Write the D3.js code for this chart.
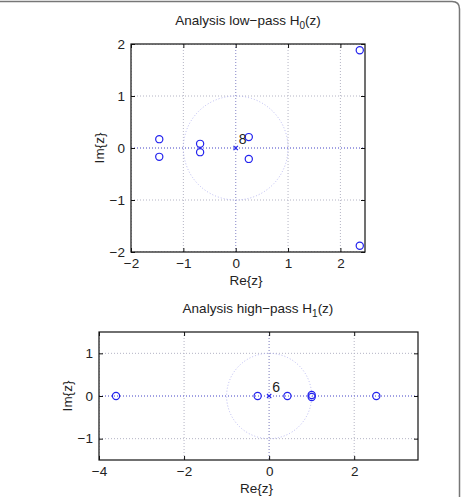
<!DOCTYPE html>
<html><head><meta charset="utf-8">
<script src="https://cdn.jsdelivr.net/npm/d3@7"></script>
<style>body{margin:0;background:#fff}svg{display:block}text{font-family:"Liberation Sans",Arial,sans-serif;fill:#222}</style>
</head><body>
<script>
// Data
const lowZerosRe = [2.37, 2.37, -1.46, -1.46, -0.68, -0.68, 0.25, 0.25];
const lowZerosIm = [1.88, -1.88, 0.17, -0.17, 0.08, -0.08, 0.21, -0.21];
const lowPoleOrder = 8;
const highZerosRe = [-3.6, -0.27, 0.43, 1.0, 1.0, 2.52];
const highZerosIm = [0, 0, 0, 0.025, -0.025, 0];
const highPoleOrder = 6;
const lowXTicks = [-2, -1, 0, 1, 2];
const lowYTicks = [-2, -1, 0, 1, 2];
const highXTicks = [-4, -2, 0, 2];
const highYTicks = [-1, 0, 1];

const W = 465, H = 497;
const svg = d3.select("body").append("svg").attr("width", W).attr("height", H);

// frame border
svg.append("path").attr("d", "M0,1.5 H452 Q459.5,1.5 459.5,9 V497")
  .attr("fill", "none").attr("stroke", "#777").attr("stroke-width", 1.5);

const fmt = v => (v < 0 ? "\u2212" + Math.abs(v) : String(v));

function panel(opt) {
  const x = d3.scaleLinear().domain(opt.xd).range([opt.l, opt.r]);
  const y = d3.scaleLinear().domain(opt.yd).range([opt.b, opt.t]);
  const g = svg.append("g");
  const clipId = "clip" + opt.id;
  g.append("clipPath").attr("id", clipId).append("rect")
    .attr("x", opt.l).attr("y", opt.t).attr("width", opt.r - opt.l).attr("height", opt.b - opt.t);
  const gg = g.append("g").attr("clip-path", `url(#${clipId})`);
  // grid
  opt.xt.forEach(v => {
    gg.append("line").attr("x1", x(v)).attr("x2", x(v)).attr("y1", opt.t).attr("y2", opt.b)
      .attr("stroke", "#b4b4c4").attr("stroke-width", 1).attr("stroke-dasharray", "1,2");
  });
  opt.yt.forEach(v => {
    gg.append("line").attr("y1", y(v)).attr("y2", y(v)).attr("x1", opt.l).attr("x2", opt.r)
      .attr("stroke", "#b4b4c4").attr("stroke-width", 1).attr("stroke-dasharray", "1,2");
  });
  // unit circle
  gg.append("ellipse").attr("cx", x(0)).attr("cy", y(0))
    .attr("rx", x(1) - x(0)).attr("ry", y(0) - y(1))
    .attr("fill", "none").attr("stroke", "#a8a8ee").attr("stroke-width", 0.8).attr("stroke-dasharray", "1,2");
  // axes lines
  gg.append("line").attr("x1", opt.l).attr("x2", opt.r).attr("y1", y(0)).attr("y2", y(0))
    .attr("stroke", "#6868e4").attr("stroke-width", 1).attr("stroke-dasharray", "1,2");
  gg.append("line").attr("x1", x(0)).attr("x2", x(0)).attr("y1", opt.t).attr("y2", opt.b)
    .attr("stroke", "#9c9cd8").attr("stroke-width", 1).attr("stroke-dasharray", "1,2");
  // box
  g.append("rect").attr("x", opt.l).attr("y", opt.t).attr("width", opt.r - opt.l).attr("height", opt.b - opt.t)
    .attr("fill", "none").attr("stroke", "#111").attr("stroke-width", 1.2);
  // axes with inward ticks
  const ax = [
    [d3.axisBottom(x).tickValues(opt.xt).tickSize(-4).tickPadding(6).tickFormat(fmt), `translate(0,${opt.b})`],
    [d3.axisTop(x).tickValues(opt.xt).tickSize(-4).tickFormat(""), `translate(0,${opt.t})`],
    [d3.axisLeft(y).tickValues(opt.yt).tickSize(-4).tickPadding(6).tickFormat(fmt), `translate(${opt.l},0)`],
    [d3.axisRight(y).tickValues(opt.yt).tickSize(-4).tickFormat(""), `translate(${opt.r},0)`]
  ];
  ax.forEach(([a, tr]) => {
    const s = g.append("g").attr("transform", tr).call(a);
    s.select(".domain").remove();
    s.selectAll(".tick line").attr("stroke", "#111");
    s.selectAll(".tick text").style("font-size", "13.5px").attr("fill", "#222")
      .style("font-family", '"Liberation Sans",Arial,sans-serif');
  });
  // zeros
  gg.selectAll("circle.z").data(opt.zr.map((r, i) => [r, opt.zi[i]])).enter().append("circle")
    .attr("cx", d => x(d[0])).attr("cy", d => y(d[1])).attr("r", 3.6)
    .attr("fill", "none").attr("stroke", "#2222ee").attr("stroke-width", 1.2);
  // pole
  const px = x(0), py = y(0), s = 2.2;
  gg.append("path").attr("d", `M${px - s},${py - s}L${px + s},${py + s}M${px - s},${py + s}L${px + s},${py - s}`)
    .attr("stroke", "#2222ee").attr("stroke-width", 1.2);
  g.append("text").attr("x", px + 3).attr("y", py - 4).text(opt.po).style("font-size", "14px");
  // labels
  const title = g.append("text").attr("x", (opt.tx)).attr("y", opt.t - 19).attr("text-anchor", "middle")
    .style("font-size", "13.5px");
  title.append("tspan").text(opt.title);
  title.append("tspan").attr("dy", 4).style("font-size", "10px").text(opt.sub);
  title.append("tspan").attr("dy", -4).text("(z)");
  g.append("text").attr("x", (opt.l + opt.r) / 2 - 2).attr("y", opt.b + 33).attr("text-anchor", "middle")
    .style("font-size", "13.5px").text("Re{z}");
  g.append("text").attr("transform", `translate(${opt.l - 27},${(opt.t + opt.b) / 2}) rotate(-90)`)
    .attr("text-anchor", "middle").style("font-size", "13.5px").text("Im{z}");
}

panel({id: 1, xd: [-2, 2.47], yd: [-2, 2], l: 131, r: 365, t: 44, b: 252,
  xt: lowXTicks, yt: lowYTicks, zr: lowZerosRe, zi: lowZerosIm, po: lowPoleOrder,
  title: "Analysis low\u2212pass H", sub: "0", tx: 248});
panel({id: 2, xd: [-4, 3.5], yd: [-1.5, 1.5], l: 99, r: 418, t: 332, b: 460,
  xt: highXTicks, yt: highYTicks, zr: highZerosRe, zi: highZerosIm, po: highPoleOrder,
  title: "Analysis high\u2212pass H", sub: "1", tx: 258});
</script>
</body></html>
